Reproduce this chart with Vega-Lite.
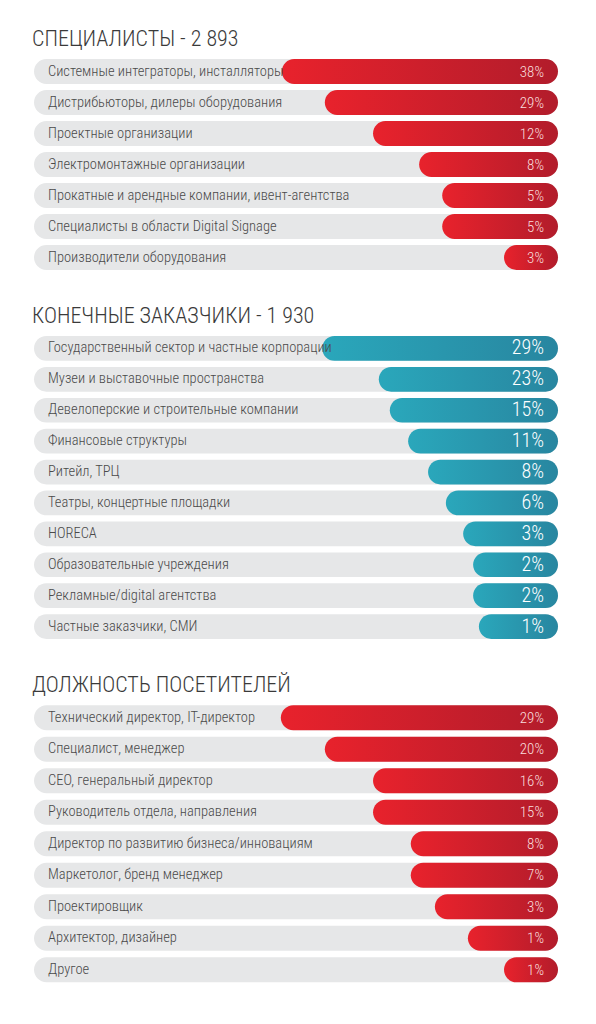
{
  "$schema": "https://vega.github.io/schema/vega-lite/v6.json",
  "background": "white",
  "padding": {"left": 32, "top": 28, "right": 20, "bottom": 10},
  "config": {
    "view": {"stroke": null},
    "font": "'Roboto Condensed', 'Liberation Sans Narrow', 'DejaVu Sans Condensed', sans-serif",
    "title": {"anchor": "start", "fontSize": 22, "fontWeight": 300, "color": "#3a3a3a", "offset": 5, "dx": -2, "font": "'Roboto Condensed', 'Liberation Sans Narrow', 'DejaVu Sans Condensed', sans-serif"}
  },
  "spacing": 32,
  "datasets": {
    "s1": [
      {"label": "Системные интеграторы, инсталляторы", "pct": "38%", "bar": 52.7},
      {"label": "Дистрибьюторы, дилеры оборудования", "pct": "29%", "bar": 44.5},
      {"label": "Проектные организации", "pct": "12%", "bar": 35.3},
      {"label": "Электромонтажные организации", "pct": "8%", "bar": 26.5},
      {"label": "Прокатные и арендные компании, ивент-агентства", "pct": "5%", "bar": 22.1},
      {"label": "Специалисты в области Digital Signage", "pct": "5%", "bar": 22.1},
      {"label": "Производители оборудования", "pct": "3%", "bar": 10.3}
    ],
    "s2": [
      {"label": "Государственный сектор и частные корпорации", "pct": "29%", "bar": 45.0},
      {"label": "Музеи и выставочные пространства", "pct": "23%", "bar": 34.2},
      {"label": "Девелоперские и строительные компании", "pct": "15%", "bar": 32.1},
      {"label": "Финансовые структуры", "pct": "11%", "bar": 28.6},
      {"label": "Ритейл, ТРЦ", "pct": "8%", "bar": 24.8},
      {"label": "Театры, концертные площадки", "pct": "6%", "bar": 21.4},
      {"label": "HORECA", "pct": "3%", "bar": 18.1},
      {"label": "Образовательные учреждения", "pct": "2%", "bar": 16.2},
      {"label": "Рекламные/digital агентства", "pct": "2%", "bar": 16.2},
      {"label": "Частные заказчики, СМИ", "pct": "1%", "bar": 15.1}
    ],
    "s3": [
      {"label": "Технический директор, IT-директор", "pct": "29%", "bar": 52.9},
      {"label": "Специалист, менеджер", "pct": "20%", "bar": 44.5},
      {"label": "CEO, генеральный директор", "pct": "16%", "bar": 35.3},
      {"label": "Руководитель отдела, направления", "pct": "15%", "bar": 35.3},
      {"label": "Директор по развитию бизнеса/инновациям", "pct": "8%", "bar": 28.1},
      {"label": "Маркетолог, бренд менеджер", "pct": "7%", "bar": 28.1},
      {"label": "Проектировщик", "pct": "3%", "bar": 23.5},
      {"label": "Архитектор, дизайнер", "pct": "1%", "bar": 17.2},
      {"label": "Другое", "pct": "1%", "bar": 10.3}
    ]
  },
  "vconcat": [
    {
      "title": "СПЕЦИАЛИСТЫ - 2 893",
      "data": {"name": "s1"},
      "width": 524,
      "height": {"step": 31},
      "encoding": {
        "y": {"field": "label", "type": "nominal", "sort": null, "axis": null, "scale": {"paddingInner": 0.2, "paddingOuter": 0.1}}
      },
      "layer": [
        {"mark": {"type": "bar", "cornerRadius": 12.5, "fill": "#e6e7e8"},
         "encoding": {"x": {"datum": 0, "type": "quantitative", "scale": {"domain": [0, 100], "reverse": true}, "axis": null}, "x2": {"datum": 100}}},
        {"mark": {"type": "bar", "cornerRadius": 12.5, "fill": {"gradient": "linear", "x1": 0, "x2": 1, "y1": 0, "y2": 0, "stops": [{"offset": 0, "color": "#e8222c"}, {"offset": 1, "color": "#b21c2b"}]}},
         "encoding": {"x": {"field": "bar", "type": "quantitative", "scale": {"domain": [0, 100], "reverse": true}, "axis": null}, "x2": {"datum": 0}}},
        {"mark": {"type": "text", "align": "left", "baseline": "middle", "dx": 14, "fontSize": 14.5, "fontWeight": 300, "color": "#4a4a4a"},
         "encoding": {"x": {"datum": 100, "type": "quantitative"}, "text": {"field": "label"}}},
        {"mark": {"type": "text", "align": "right", "baseline": "middle", "dx": -14, "fontSize": 15, "fontWeight": 300, "color": "#f8dede"},
         "encoding": {"x": {"datum": 0, "type": "quantitative"}, "text": {"field": "pct"}}}
      ]
    },
    {
      "title": "КОНЕЧНЫЕ ЗАКАЗЧИКИ - 1 930",
      "data": {"name": "s2"},
      "width": 524,
      "height": {"step": 30.9},
      "encoding": {
        "y": {"field": "label", "type": "nominal", "sort": null, "axis": null, "scale": {"paddingInner": 0.2, "paddingOuter": 0.1}}
      },
      "layer": [
        {"mark": {"type": "bar", "cornerRadius": 12.5, "fill": "#e6e7e8"},
         "encoding": {"x": {"datum": 0, "type": "quantitative", "scale": {"domain": [0, 100], "reverse": true}, "axis": null}, "x2": {"datum": 100}}},
        {"mark": {"type": "bar", "cornerRadius": 12.5, "fill": {"gradient": "linear", "x1": 0, "x2": 1, "y1": 0, "y2": 0, "stops": [{"offset": 0, "color": "#2aa7bb"}, {"offset": 1, "color": "#2886a0"}]}},
         "encoding": {"x": {"field": "bar", "type": "quantitative", "scale": {"domain": [0, 100], "reverse": true}, "axis": null}, "x2": {"datum": 0}}},
        {"mark": {"type": "text", "align": "left", "baseline": "middle", "dx": 14, "fontSize": 14.5, "fontWeight": 300, "color": "#4a4a4a"},
         "encoding": {"x": {"datum": 100, "type": "quantitative"}, "text": {"field": "label"}}},
        {"mark": {"type": "text", "align": "right", "baseline": "middle", "dx": -14, "fontSize": 20, "fontWeight": 300, "color": "#ffffff"},
         "encoding": {"x": {"datum": 0, "type": "quantitative"}, "text": {"field": "pct"}}}
      ]
    },
    {
      "title": "ДОЛЖНОСТЬ ПОСЕТИТЕЛЕЙ",
      "data": {"name": "s3"},
      "width": 524,
      "height": {"step": 31.5},
      "encoding": {
        "y": {"field": "label", "type": "nominal", "sort": null, "axis": null, "scale": {"paddingInner": 0.2, "paddingOuter": 0.1}}
      },
      "layer": [
        {"mark": {"type": "bar", "cornerRadius": 12.5, "fill": "#e6e7e8"},
         "encoding": {"x": {"datum": 0, "type": "quantitative", "scale": {"domain": [0, 100], "reverse": true}, "axis": null}, "x2": {"datum": 100}}},
        {"mark": {"type": "bar", "cornerRadius": 12.5, "fill": {"gradient": "linear", "x1": 0, "x2": 1, "y1": 0, "y2": 0, "stops": [{"offset": 0, "color": "#e8222c"}, {"offset": 1, "color": "#b21c2b"}]}},
         "encoding": {"x": {"field": "bar", "type": "quantitative", "scale": {"domain": [0, 100], "reverse": true}, "axis": null}, "x2": {"datum": 0}}},
        {"mark": {"type": "text", "align": "left", "baseline": "middle", "dx": 14, "fontSize": 14.5, "fontWeight": 300, "color": "#4a4a4a"},
         "encoding": {"x": {"datum": 100, "type": "quantitative"}, "text": {"field": "label"}}},
        {"mark": {"type": "text", "align": "right", "baseline": "middle", "dx": -14, "fontSize": 15, "fontWeight": 300, "color": "#f8dede"},
         "encoding": {"x": {"datum": 0, "type": "quantitative"}, "text": {"field": "pct"}}}
      ]
    }
  ]
}
